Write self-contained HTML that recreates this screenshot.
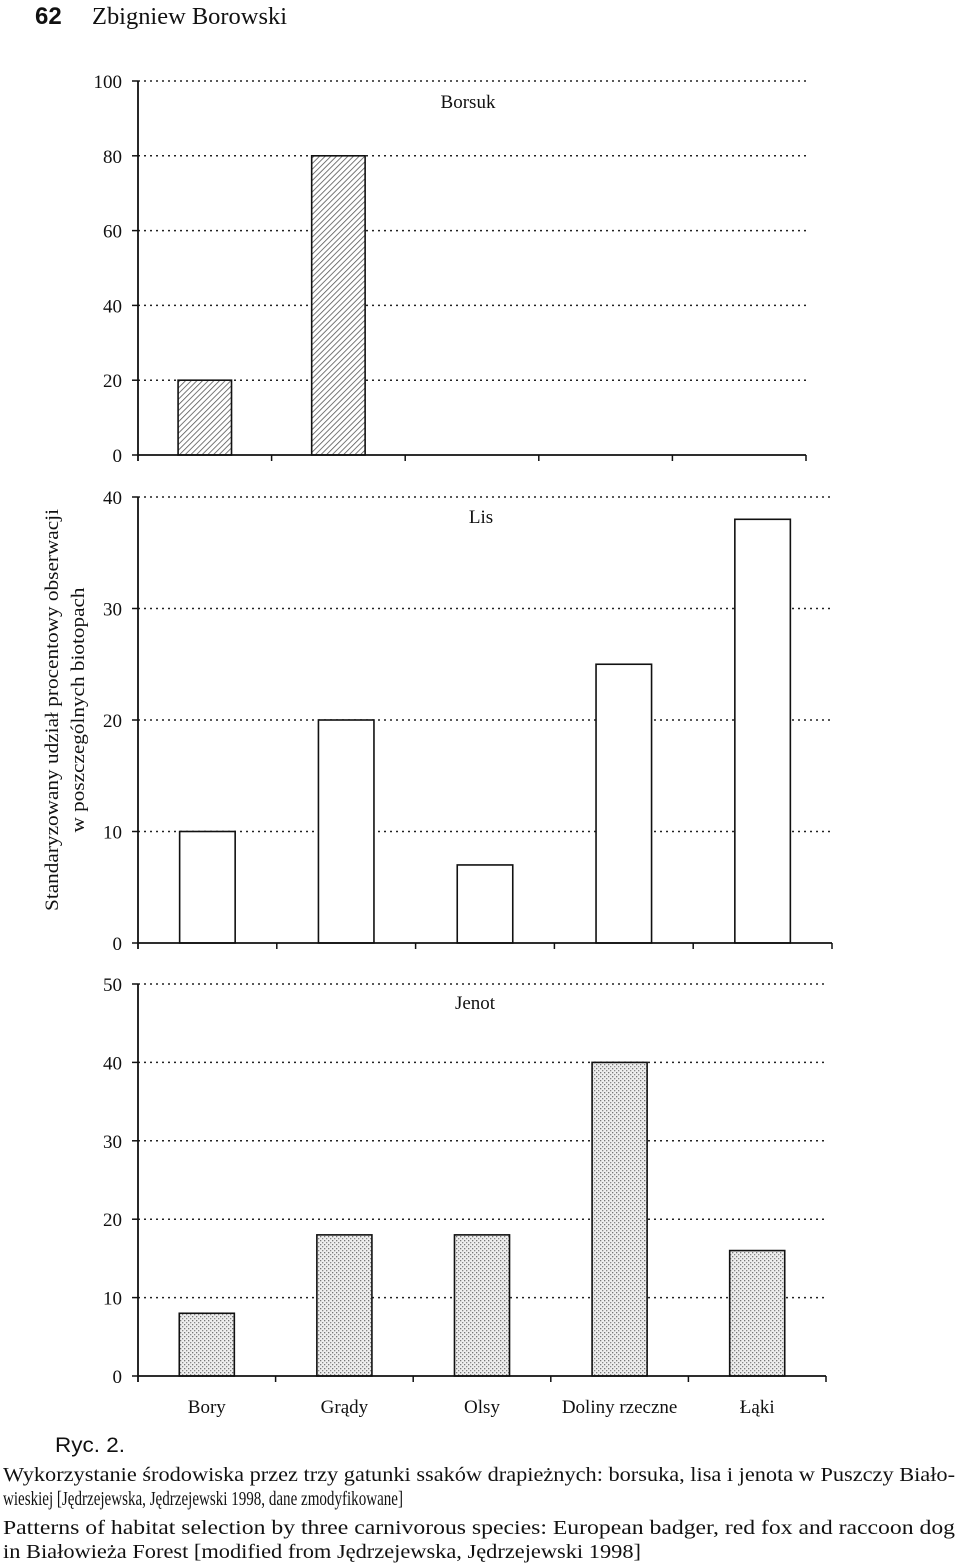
<!DOCTYPE html>
<html><head><meta charset="utf-8">
<style>
html,body{margin:0;padding:0;background:#fff;}
svg{display:block;}
text{font-family:"Liberation Serif",serif;fill:#111;}
</style></head>
<body>
<svg id="chart" width="960" height="1564" viewBox="0 0 960 1564" xmlns="http://www.w3.org/2000/svg">
<defs>
<pattern id="hatch" patternUnits="userSpaceOnUse" width="4" height="4" patternTransform="rotate(45)">
<rect width="4" height="4" fill="#fff"/><line x1="0" y1="0" x2="0" y2="4" stroke="#555" stroke-width="1.6"/>
</pattern>
<pattern id="stipple" patternUnits="userSpaceOnUse" width="4" height="4">
<rect width="4" height="4" fill="#eee"/><rect x="0" y="0" width="1.3" height="1.3" fill="#777"/><rect x="2" y="2" width="1.3" height="1.3" fill="#888"/>
</pattern>
</defs>
<text x="35" y="24" style="font-family:'Liberation Sans',sans-serif;font-weight:bold;font-size:24px">62</text>
<text x="92" y="24" style="font-size:24px" textLength="195" lengthAdjust="spacingAndGlyphs">Zbigniew Borowski</text>
<text transform="translate(58,710) rotate(-90)" text-anchor="middle" style="font-size:19px" textLength="402" lengthAdjust="spacingAndGlyphs">Standaryzowany udział procentowy obserwacji</text>
<text transform="translate(84,710) rotate(-90)" text-anchor="middle" style="font-size:19px" textLength="245" lengthAdjust="spacingAndGlyphs">w poszczególnych biotopach</text>
<g id="panels"></g>
<text x="55" y="1452" style="font-family:'Liberation Sans',sans-serif;font-size:21px" textLength="70" lengthAdjust="spacingAndGlyphs">Ryc. 2.</text>
<text x="3" y="1481" style="font-size:20px" textLength="952" lengthAdjust="spacingAndGlyphs">Wykorzystanie środowiska przez trzy gatunki ssaków drapieżnych: borsuka, lisa i jenota w Puszczy Biało-</text>
<text x="3" y="1505" style="font-size:20px" textLength="400" lengthAdjust="spacingAndGlyphs">wieskiej [Jędrzejewska, Jędrzejewski 1998, dane zmodyfikowane]</text>
<text x="3" y="1534" style="font-size:20px" textLength="952" lengthAdjust="spacingAndGlyphs">Patterns of habitat selection by three carnivorous species: European badger, red fox and raccoon dog</text>
<text x="3" y="1558" style="font-size:20px" textLength="638" lengthAdjust="spacingAndGlyphs">in Białowieża Forest [modified from Jędrzejewska, Jędrzejewski 1998]</text>
</svg>
<script>
const categories = ["Bory","Grądy","Olsy","Doliny rzeczne","Łąki"];
const borsukValues = [20,80,0,0,0];
const lisValues = [10,20,7,25,38];
const jenotValues = [8,18,18,40,16];
const borsukTicks = [0,20,40,60,80,100];
const lisTicks = [0,10,20,30,40];
const jenotTicks = [0,10,20,30,40,50];

const NS="http://www.w3.org/2000/svg";
const root=document.getElementById('panels');
function mk(tag,attrs,parent){const e=document.createElementNS(NS,tag);for(const k in attrs)e.setAttribute(k,attrs[k]);(parent||root).appendChild(e);return e;}

function panel(cfg){
  const g=mk('g',{});
  
  
  const max=cfg.ticks[cfg.ticks.length-1];
  const y=v=>cfg.y0-(v/max)*(cfg.y0-cfg.yTop);
  const bw=(cfg.xR-cfg.x0)/categories.length;
  const x=i=>cfg.x0+bw*i;
  cfg.ticks.forEach(t=>{
    if(t>0){
      const gl=mk('line',{x1:cfg.x0,x2:cfg.xR,y1:y(t),y2:y(t),stroke:'#222','stroke-width':1.5,'stroke-dasharray':'2 4'},g);
      
      
    }
    mk('line',{x1:cfg.x0-6,x2:cfg.x0,y1:y(t),y2:y(t),stroke:'#111','stroke-width':1.5},g);
    const tl=mk('text',{x:cfg.x0-16,y:y(t)+7,'text-anchor':'end','font-size':'19px'},g);
    tl.textContent=t;
    
    
  });
  cfg.values.forEach((v,i)=>{
    if(v<=0)return;
    const bx=x(i)+bw*0.3, w=bw*0.4;
    const r=mk('rect',{x:bx,y:y(v),width:w,height:cfg.y0-y(v),fill:cfg.fill,stroke:'#111','stroke-width':1.6},g);
    
    
  });
  mk('line',{x1:cfg.x0,x2:cfg.x0,y1:cfg.yTop,y2:cfg.y0+6,stroke:'#111','stroke-width':1.8},g);
  mk('line',{x1:cfg.x0,x2:cfg.xR,y1:cfg.y0,y2:cfg.y0,stroke:'#111','stroke-width':1.8},g);
  for(let i=1;i<=categories.length;i++) mk('line',{x1:x(i),x2:x(i),y1:cfg.y0,y2:cfg.y0+6,stroke:'#111','stroke-width':1.5},g);
  const t=mk('text',{x:cfg.titleX,y:cfg.titleY,'text-anchor':'middle','font-size':'19px'},g);
  t.textContent=cfg.title;
  
  
  if(cfg.labels){
    categories.forEach((c,i)=>{
      const l=mk('text',{x:x(i)+bw/2,y:cfg.y0+37,'text-anchor':'middle','font-size':'19px'},g);
      l.textContent=c;
      
      
    });
  }
}
panel({name:'borsuk',title:'Borsuk',titleX:468,titleY:108,values:borsukValues,ticks:borsukTicks,x0:138,xR:806,y0:455,yTop:81,fill:'url(#hatch)'});
panel({name:'lis',title:'Lis',titleX:481,titleY:523,values:lisValues,ticks:lisTicks,x0:138,xR:832,y0:943,yTop:497,fill:'#fff'});
panel({name:'jenot',title:'Jenot',titleX:475,titleY:1009,values:jenotValues,ticks:jenotTicks,x0:138,xR:826,y0:1376,yTop:984,fill:'url(#stipple)',labels:true});
</script>
</body></html>
